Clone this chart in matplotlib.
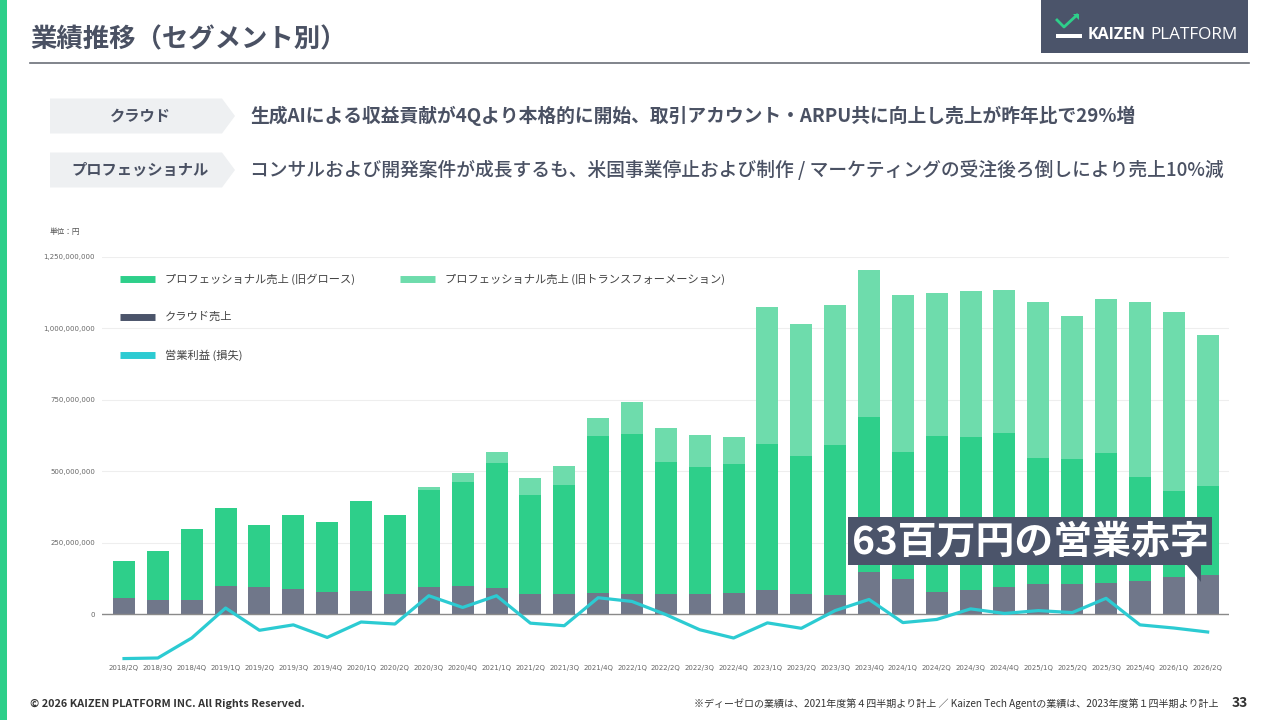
import numpy as np
import matplotlib
matplotlib.use("Agg")
import matplotlib.pyplot as plt
from matplotlib.patches import Polygon, Rectangle
from matplotlib.lines import Line2D

plt.rcParams['font.family'] = ['Noto Sans CJK JP', 'DejaVu Sans']

# quarters
quarters = ['2018/2Q', '2018/3Q', '2018/4Q', '2019/1Q', '2019/2Q', '2019/3Q', '2019/4Q',
            '2020/1Q', '2020/2Q', '2020/3Q', '2020/4Q', '2021/1Q', '2021/2Q', '2021/3Q',
            '2021/4Q', '2022/1Q', '2022/2Q', '2022/3Q', '2022/4Q', '2023/1Q', '2023/2Q',
            '2023/3Q', '2023/4Q', '2024/1Q', '2024/2Q', '2024/3Q', '2024/4Q', '2025/1Q',
            '2025/2Q', '2025/3Q', '2025/4Q', '2026/1Q', '2026/2Q']

# values in millions of yen
cloud_sales = [56, 48, 48, 99, 93, 87, 78, 80, 71, 96, 99, 90, 70, 70, 75, 69, 69, 69, 75,
               85, 69, 66, 148, 121, 78, 84, 95, 105, 105, 110, 116, 128, 137]
prof_growth = [131, 174, 250, 272, 220, 258, 245, 314, 277, 337, 362, 438, 348, 380, 547,
               560, 464, 444, 451, 510, 483, 527, 543, 447, 546, 536, 539, 443, 438, 455,
               365, 304, 311]
prof_transform = [0, 0, 0, 0, 0, 0, 0, 0, 0, 11, 32, 41, 57, 68, 66, 112, 118, 115, 94,
                  481, 465, 489, 512, 549, 501, 511, 500, 545, 500, 539, 612, 626, 529]
operating_profit = [-156, -154, -84, 21, -57, -38, -82, -28, -35, 64, 23, 64, -32, -41, 57,
                    44, -2, -55, -84, -31, -50, 12, 51, -30, -19, 18, 2, 12, 5, 55, -38,
                    -49, -63]

yticks = [0, 250, 500, 750, 1000, 1250]

C_DARK = '#2ecf8a'
C_LIGHT = '#6edcac'
C_CLOUD = '#70778a'
C_LINE = '#2ccbd2'
C_NAVY = '#4b546a'
C_TEXT = '#4a5163'

W, H = 1280, 720
fig = plt.figure(figsize=(12.8, 7.2), dpi=100)


def fx(x):
    return x / W


def fy(y):
    return 1 - y / H


# chart
ax = fig.add_axes([fx(102), fy(662), fx(1229 - 102), (662 - 257) / H])
x = np.arange(len(quarters))
cloud = np.array(cloud_sales) * 1e6
grow = np.array(prof_growth) * 1e6
trans = np.array(prof_transform) * 1e6
op = np.array(operating_profit) * 1e6

ax.bar(x, cloud, width=0.65, color=C_CLOUD, zorder=2)
ax.bar(x, grow, width=0.65, bottom=cloud, color=C_DARK, zorder=2)
ax.bar(x, trans, width=0.65, bottom=cloud + grow, color=C_LIGHT, zorder=2)
ax.plot(x, op, color=C_LINE, lw=2.3, zorder=3, solid_joinstyle='round')

ax.set_xlim(-0.65, len(quarters) - 1 + 0.63)
ax.set_ylim(-168e6, 1250e6)
ax.set_yticks([v * 1e6 for v in yticks])
ax.set_yticklabels([f'{v * 1000000:,}' for v in yticks], fontsize=5, color='#666666',
                   family='DejaVu Sans')
ax.set_xticks(x)
ax.set_xticklabels(quarters, fontsize=5, color='#666666', family='DejaVu Sans')
ax.tick_params(length=0, axis='y', pad=5)
ax.tick_params(length=0, axis='x', pad=2)
for s in ax.spines.values():
    s.set_visible(False)
ax.grid(axis='y', color='#eeeeee', lw=0.8, zorder=0)
ax.axhline(0, color='#8a8a8a', lw=1, zorder=2.5)

fig.text(fx(50), fy(232), '単位：円', fontsize=5.5, color='#555555', va='center')

# legend
legend_items = [
    (120, 279, C_DARK, 'プロフェッショナル売上 (旧グロース)'),
    (400, 279, C_LIGHT, 'プロフェッショナル売上 (旧トランスフォーメーション)'),
    (120, 317, C_NAVY, 'クラウド売上'),
    (120, 355, C_LINE, '営業利益 (損失)'),
]
for lx, ly, col, lab in legend_items:
    fig.add_artist(Line2D([fx(lx), fx(lx + 35)], [fy(ly), fy(ly)], color=col, lw=5,
                          solid_capstyle='butt'))
    fig.text(fx(lx + 45), fy(ly), lab, fontsize=8.1, color='#444444', va='center')

# annotation box
fig.add_artist(Rectangle((fx(848), fy(565)), fx(1212 - 848), (565 - 517) / H,
                         facecolor=C_NAVY, edgecolor='none', zorder=5))
fig.add_artist(Polygon([(fx(1186), fy(564)), (fx(1201), fy(564)), (fx(1201), fy(582))],
                       closed=True, facecolor=C_NAVY, edgecolor='none', zorder=5))
fig.text(fx(1030), fy(542), '63百万円の営業赤字', fontsize=28, fontweight='bold',
         color='white', ha='center', va='center', zorder=6)

# left green strip
fig.add_artist(Rectangle((0, 0), fx(7), 1, facecolor=C_DARK, edgecolor='none'))

# title
fig.text(fx(30), fy(40), '業績推移（セグメント別）', fontsize=19, fontweight='bold',
         color=C_TEXT, va='center')
fig.add_artist(Line2D([fx(30), fx(1249)], [fy(63), fy(63)], color='#6b6f78', lw=1.2))

# logo
fig.add_artist(Rectangle((fx(1041), fy(53)), fx(1248 - 1041), 53 / H,
                         facecolor=C_NAVY, edgecolor='none'))
fig.add_artist(Line2D([fx(1057), fx(1064), fx(1077)], [fy(20), fy(27), fy(15)],
                      color=C_DARK, lw=2))
fig.add_artist(Polygon([(fx(1073), fy(14)), (fx(1079), fy(14)), (fx(1079), fy(20))],
                       closed=True, facecolor=C_DARK, edgecolor='none'))
fig.add_artist(Rectangle((fx(1056), fy(38)), fx(26), 4 / H, facecolor='white',
                         edgecolor='none'))
fig.text(fx(1088), fy(35), 'KAIZEN', fontsize=11.5, fontweight='bold', color='white',
         va='center', family='Open Sans')
fig.text(fx(1150), fy(35), 'PLATFORM', fontsize=12.3, color='white', va='center',
         family='Open Sans')

# segment rows
rows = [
    (116, 'クラウド',
     '生成AIによる収益貢献が4Qより本格的に開始、取引アカウント・ARPU共に向上し売上が昨年比で29%増', 'bold'),
    (170, 'プロフェッショナル',
     'コンサルおよび開発案件が成長するも、米国事業停止および制作 / マーケティングの受注後ろ倒しにより売上10%減',
     'medium'),
]
for cy, lab, desc, wt in rows:
    pts = [(50, cy - 17.5), (222, cy - 17.5), (235, cy), (222, cy + 17.5), (50, cy + 17.5)]
    fig.add_artist(Polygon([(fx(a), fy(b)) for a, b in pts], closed=True,
                           facecolor='#eef0f2', edgecolor='none'))
    fig.text(fx(140), fy(cy), lab, fontsize=11, fontweight='bold', color=C_TEXT,
             ha='center', va='center')
    fig.text(fx(250), fy(cy), desc, fontsize=13.5, fontweight=wt, color=C_TEXT,
             va='center')

# footer
fig.text(fx(30), fy(704), '© 2026 KAIZEN PLATFORM INC. All Rights Reserved.', fontsize=7.8,
         fontweight='bold', color='#333333', va='center')
fig.text(fx(1218), fy(704),
         '※ディーゼロの業績は、2021年度第４四半期より計上 ／ Kaizen Tech Agentの業績は、2023年度第１四半期より計上',
         fontsize=7.2, color='#333333', ha='right', va='center')
fig.text(fx(1240), fy(703), '33', fontsize=10, fontweight='bold', color='#333333',
         ha='center', va='center')

fig.savefig('out.png', dpi=100)
